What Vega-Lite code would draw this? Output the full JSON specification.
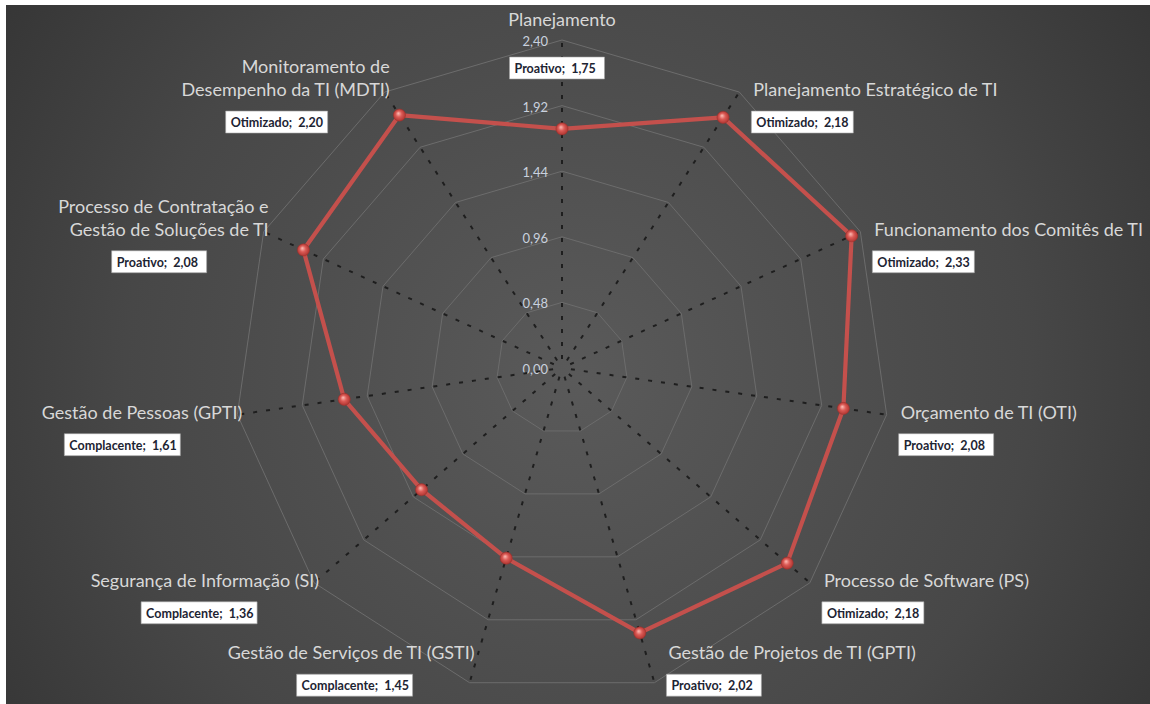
{
  "$schema": "https://vega.github.io/schema/vega-lite/v6.json",
  "width": 1144,
  "height": 699,
  "padding": {"left": 6, "top": 5, "right": 0, "bottom": 0},
  "autosize": {"type": "none"},
  "background": "#ffffff",
  "config": {
    "view": {
      "stroke": null,
      "fill": {
        "gradient": "radial",
        "x1": 0.5, "y1": 0.52, "r1": 0,
        "x2": 0.5, "y2": 0.52, "r2": 0.72,
        "stops": [
          {"offset": 0, "color": "#5a5a5a"},
          {"offset": 0.55, "color": "#474747"},
          {"offset": 1, "color": "#2c2c2c"}
        ]
      }
    }
  },
  "datasets": {
    "grade": [
      {"marca": 0},
      {"marca": 0.48},
      {"marca": 0.96},
      {"marca": 1.44},
      {"marca": 1.92},
      {"marca": 2.4}
    ],
    "scores": [
      {"categoria": "Planejamento", "nivel": "Proativo", "valor": 1.75},
      {"categoria": "Planejamento Estratégico de TI", "nivel": "Otimizado", "valor": 2.18},
      {"categoria": "Funcionamento dos Comitês de TI", "nivel": "Otimizado", "valor": 2.33},
      {"categoria": "Orçamento de TI (OTI)", "nivel": "Proativo", "valor": 2.08},
      {"categoria": "Processo de Software (PS)", "nivel": "Otimizado", "valor": 2.18},
      {"categoria": "Gestão de Projetos de TI (GPTI)", "nivel": "Proativo", "valor": 2.02},
      {"categoria": "Gestão de Serviços de TI (GSTI)", "nivel": "Complacente", "valor": 1.45},
      {"categoria": "Segurança de Informação (SI)", "nivel": "Complacente", "valor": 1.36},
      {"categoria": "Gestão de Pessoas (GPTI)", "nivel": "Complacente", "valor": 1.61},
      {"categoria": "Processo de Contratação e\nGestão de Soluções de TI", "nivel": "Proativo", "valor": 2.08},
      {"categoria": "Monitoramento de\nDesempenho da TI (MDTI)", "nivel": "Otimizado", "valor": 2.2}
    ]
  },
  "layer": [
    {
      "description": "Concentric 11-sided grid polygons",
      "data": {"name": "grade"},
      "transform": [
        {"filter": "datum.marca > 0"},
        {"calculate": "[0,1,2,3,4,5,6,7,8,9,10]", "as": "v"},
        {"flatten": ["v"]},
        {"calculate": "datum.v * 2 * PI / 11", "as": "ang"},
        {"calculate": "datum.marca * sin(datum.ang)", "as": "gx"},
        {"calculate": "datum.marca * cos(datum.ang)", "as": "gy"}
      ],
      "mark": {"type": "line", "interpolate": "linear-closed", "stroke": "#6c6c6c", "strokeWidth": 1},
      "encoding": {
        "x": {"field": "gx", "type": "quantitative", "axis": null, "scale": {"domain": [-4.06829, 4.30243], "nice": false, "zero": false}},
        "y": {"field": "gy", "type": "quantitative", "axis": null, "scale": {"domain": [-2.45853, 2.65609], "nice": false, "zero": false}},
        "detail": {"field": "marca", "type": "nominal"},
        "order": {"field": "v", "type": "quantitative"}
      }
    },
    {
      "description": "Radial scale labels along the top spoke",
      "data": {"name": "grade"},
      "transform": [
        {"calculate": "replace(format(datum.marca, '.2f'), '.', ',')", "as": "rot"},
        {"calculate": "0", "as": "z"}
      ],
      "mark": {"type": "text", "align": "right", "baseline": "middle", "dx": -14, "dy": 2, "font": "Lato", "fontSize": 13, "fill": "#c9d1de"},
      "encoding": {
        "x": {"field": "z", "type": "quantitative", "axis": null, "scale": {"domain": [-4.06829, 4.30243], "nice": false, "zero": false}},
        "y": {"field": "marca", "type": "quantitative", "axis": null, "scale": {"domain": [-2.45853, 2.65609], "nice": false, "zero": false}},
        "text": {"field": "rot", "type": "nominal"}
      }
    },
    {
      "data": {"name": "scores"},
      "transform": [
        {"window": [{"op": "row_number", "as": "i"}]},
        {"calculate": "0", "as": "z"},
        {"calculate": "(datum.i - 1) * 2 * PI / 11", "as": "ang"},
        {"calculate": "sin(datum.ang)", "as": "s"},
        {"calculate": "cos(datum.ang)", "as": "c"},
        {"calculate": "datum.valor * datum.s", "as": "px"},
        {"calculate": "datum.valor * datum.c", "as": "py"},
        {"calculate": "2.4 * datum.s", "as": "ex"},
        {"calculate": "2.4 * datum.c", "as": "ey"},
        {"calculate": "datum.s > 0.1 ? 1 : (datum.s < -0.1 ? -1 : 0)", "as": "lado"},
        {"calculate": "datum.ex + (datum.lado == 1 ? 14 : (datum.lado == -1 ? 5 : 0)) / 136.667", "as": "lx"},
        {"calculate": "max(datum.ey + (datum.lado == 0 ? 10 : -8) / 136.667, -2.16)", "as": "ly"},
        {"calculate": "datum.ly + (indexof(datum.categoria, '\\n') >= 0 ? 23 : 0) / 136.667", "as": "ty"},
        {"calculate": "datum.nivel + ';\u00a0 ' + replace(format(datum.valor, '.2f'), '.', ',')", "as": "rotulo"},
        {"calculate": "(length(datum.rotulo) * 7 - 10) / 136.667", "as": "bw"},
        {"calculate": "datum.ly - (datum.lado == 0 ? 27 : 11) / 136.667", "as": "by1"},
        {"calculate": "datum.by1 - 22 / 136.667", "as": "by2"},
        {"calculate": "(datum.by1 + datum.by2) / 2", "as": "bym"},
        {"calculate": "datum.lado == 1 ? datum.lx - 2 / 136.667 : (datum.lado == -1 ? datum.lx - 62 / 136.667 - datum.bw : datum.lx - 5 / 136.667 - datum.bw / 2)", "as": "bx1"},
        {"calculate": "datum.bx1 + datum.bw", "as": "bx2"}
      ],
      "layer": [
        {
          "description": "Dotted spokes",
          "mark": {"type": "rule", "stroke": "#1e1e1e", "strokeWidth": 2, "strokeDash": [4, 9], "strokeDashOffset": 4},
          "encoding": {
            "x": {"field": "z", "type": "quantitative", "axis": null, "scale": {"domain": [-4.06829, 4.30243], "nice": false, "zero": false}},
            "y": {"field": "z", "type": "quantitative", "axis": null, "scale": {"domain": [-2.45853, 2.65609], "nice": false, "zero": false}},
            "x2": {"field": "ex"},
            "y2": {"field": "ey"}
          }
        },
        {
          "description": "Score polygon",
          "mark": {"type": "line", "interpolate": "linear-closed", "stroke": "#c4504c", "strokeWidth": 4.2, "strokeJoin": "round"},
          "encoding": {
            "x": {"field": "px", "type": "quantitative", "axis": null, "scale": {"domain": [-4.06829, 4.30243], "nice": false, "zero": false}},
            "y": {"field": "py", "type": "quantitative", "axis": null, "scale": {"domain": [-2.45853, 2.65609], "nice": false, "zero": false}},
            "order": {"field": "i", "type": "quantitative"}
          }
        },
        {
          "description": "Score markers",
          "mark": {
            "type": "point", "shape": "circle", "filled": true, "size": 150, "opacity": 1,
            "fill": {
              "gradient": "radial",
              "x1": 0.4, "y1": 0.35, "r1": 0,
              "x2": 0.5, "y2": 0.5, "r2": 0.55,
              "stops": [
                {"offset": 0, "color": "#ffc2bb"},
                {"offset": 0.45, "color": "#dc5a55"},
                {"offset": 1, "color": "#a8302c"}
              ]
            },
            "stroke": "#9a2e2a", "strokeWidth": 0.5
          },
          "encoding": {
            "x": {"field": "px", "type": "quantitative", "axis": null, "scale": {"domain": [-4.06829, 4.30243], "nice": false, "zero": false}},
            "y": {"field": "py", "type": "quantitative", "axis": null, "scale": {"domain": [-2.45853, 2.65609], "nice": false, "zero": false}}
          }
        },
        {
          "description": "Category names",
          "mark": {
            "type": "text", "baseline": "bottom", "lineBreak": "\n", "lineHeight": 23,
            "align": {"expr": "datum.lado > 0 ? 'left' : (datum.lado < 0 ? 'right' : 'center')"},
            "font": "Lato", "fontSize": 18, "fill": "#d8d8d8"
          },
          "encoding": {
            "x": {"field": "lx", "type": "quantitative", "axis": null, "scale": {"domain": [-4.06829, 4.30243], "nice": false, "zero": false}},
            "y": {"field": "ty", "type": "quantitative", "axis": null, "scale": {"domain": [-2.45853, 2.65609], "nice": false, "zero": false}},
            "text": {"field": "categoria", "type": "nominal"}
          }
        },
        {
          "description": "Value label boxes",
          "mark": {"type": "rect", "fill": "#ffffff", "stroke": "#a0a0a0", "strokeWidth": 0.6},
          "encoding": {
            "x": {"field": "bx1", "type": "quantitative", "axis": null, "scale": {"domain": [-4.06829, 4.30243], "nice": false, "zero": false}},
            "x2": {"field": "bx2"},
            "y": {"field": "by1", "type": "quantitative", "axis": null, "scale": {"domain": [-2.45853, 2.65609], "nice": false, "zero": false}},
            "y2": {"field": "by2"}
          }
        },
        {
          "description": "Value label text",
          "mark": {"type": "text", "align": "left", "baseline": "middle", "dx": 5, "dy": 1, "font": "Lato", "fontSize": 12.5, "fontWeight": "bold", "fill": "#1d2433"},
          "encoding": {
            "x": {"field": "bx1", "type": "quantitative", "axis": null, "scale": {"domain": [-4.06829, 4.30243], "nice": false, "zero": false}},
            "y": {"field": "bym", "type": "quantitative", "axis": null, "scale": {"domain": [-2.45853, 2.65609], "nice": false, "zero": false}},
            "text": {"field": "rotulo", "type": "nominal"}
          }
        }
      ]
    }
  ]
}
